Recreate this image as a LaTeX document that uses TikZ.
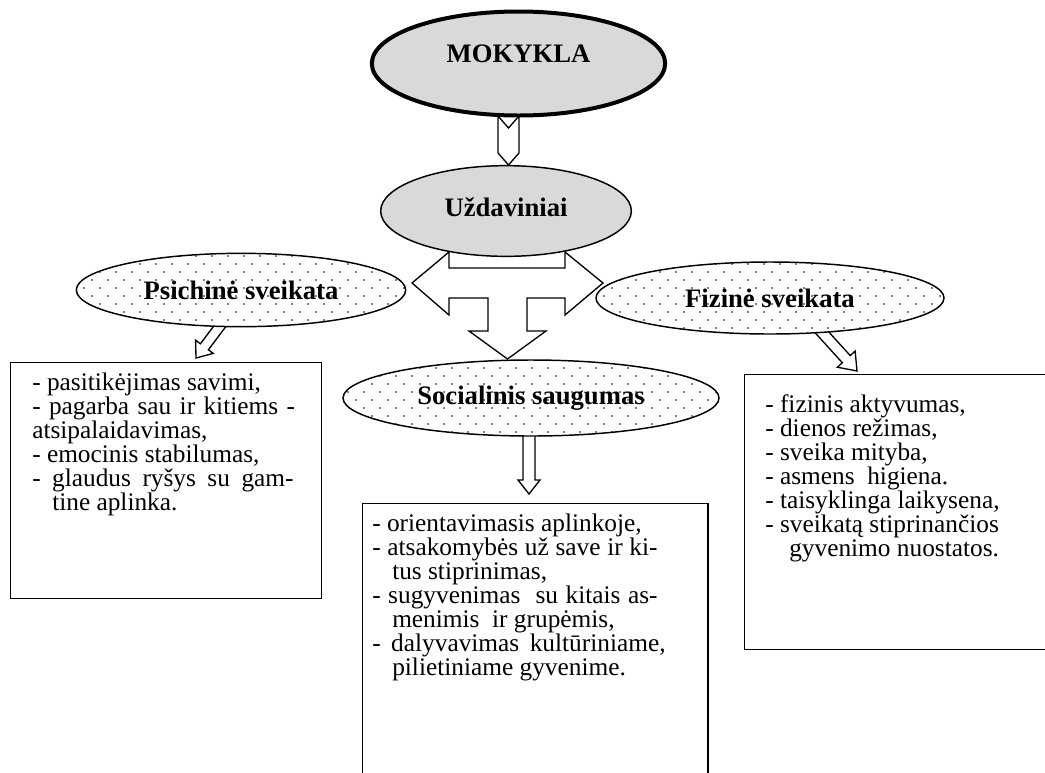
\documentclass[tikz,border=0pt]{standalone}
\usepackage{fontspec}
\setmainfont{Liberation Serif}
\usetikzlibrary{shapes.geometric, calc, patterns, positioning}

\pgfdeclarepatternformonly{sparsedots}{\pgfqpoint{-1pt}{-1pt}}{\pgfqpoint{13pt}{13pt}}{\pgfqpoint{12pt}{12pt}}{%
	\pgfpathcircle{\pgfqpoint{3pt}{3pt}}{0.7pt}%
	\pgfpathcircle{\pgfqpoint{9pt}{9pt}}{0.7pt}%
	\pgfusepath{fill}}

\pgfdeclarelayer{bg}
\pgfsetlayers{bg,main}

\tikzset{
	school/.style={ellipse, draw, line width=3pt, fill=black!15, minimum width=220pt, minimum height=78pt, text depth=14pt, font=\fontsize{20pt}{22pt}\selectfont\bfseries},
	task/.style={ellipse, draw, line width=1.1pt, fill=black!15, minimum width=188pt, minimum height=68pt, text depth=6pt, font=\fontsize{20pt}{22pt}\selectfont\bfseries},
	topic/.style={ellipse, draw, line width=1.1pt, preaction={fill=white}, pattern=sparsedots, font=\fontsize{20pt}{22pt}\selectfont\bfseries},
	listbox/.style={draw, line width=1.1pt, anchor=north west, inner sep=0pt},
	listtext/.style={align=left, inner sep=0pt, anchor=north west, font=\fontsize{19pt}{18pt}\selectfont},
	blockarrow/.style={draw, line width=1pt, line join=miter}
}

% justified line of a list item
\newcommand{\jline}[2]{\makebox[#1][s]{#2}}

% hollow arrow: from, to, shaft half width, head half width, head length
\newcommand{\hollowarrow}[5]{%
	\coordinate (ha) at (#1);
	\coordinate (hb) at (#2);
	\coordinate (hh) at ($(hb)!#5!(ha)$);
	\draw[blockarrow] ($(ha)!#3!90:(hb)$) -- ($(hh)!#3!90:(hb)$) -- ($(hh)!#4!90:(hb)$) -- (hb)
		-- ($(hh)!#4!-90:(hb)$) -- ($(hh)!#3!-90:(hb)$) -- ($(ha)!#3!-90:(hb)$) -- cycle;
}

\begin{document}
\begin{tikzpicture}[x=0.75pt, y=-0.75pt]
	\useasboundingbox (0,0) rectangle (1045,772);

	% Nodes
	\node (school) [school] at (518.5,63.5) {MOKYKLA};
	\node (tasks) [task] at (506,211) {Uždaviniai};
	\node (psych) [topic, minimum width=247pt, minimum height=55pt] at (241,290) {Psichinė sveikata};
	\node (phys) [topic, minimum width=261pt, minimum height=54pt] at (770,298) {Fizinė sveikata};
	\node (soc) [topic, minimum width=282pt, minimum height=57pt] at (531,398) {Socialinis saugumas};

	% Boxes
	\node (psbox) [listbox, minimum width=233pt, minimum height=177pt] at (10,362) {};
	\node (socbox) [listbox, minimum width=259pt, minimum height=220pt] at (362,503) {};
	\node (physbox) [listbox, minimum width=230pt, minimum height=206pt] at (744,374) {};

	\node (pstext) [listtext] at ([xshift=16.5pt, yshift=-8pt]psbox.north west)
		{- pasitikėjimas savimi,\\
		 \jline{197pt}{- pagarba sau ir kitiems -}\\
		 atsipalaidavimas,\\
		 - emocinis stabilumas,\\
		 \jline{196pt}{- glaudus ryšys su gam-}\\
		 \hspace*{15pt}tine aplinka.};
	\node (soctext) [listtext] at ([xshift=7.5pt, yshift=-8pt]socbox.north west)
		{- orientavimasis aplinkoje,\\
		 \jline{214pt}{- atsakomybės už save ir ki-}\\
		 \hspace*{15pt}tus stiprinimas,\\
		 \jline{214pt}{- sugyvenimas\ \ su kitais as-}\\
		 \hspace*{15pt}menimis\ \ ir grupėmis,\\
		 \jline{220pt}{- dalyvavimas kultūriniame,}\\
		 \hspace*{15pt}pilietiniame gyvenime.};
	\node (phystext) [listtext] at ([xshift=15.75pt, yshift=-15pt]physbox.north west)
		{- fizinis aktyvumas,\\
		 - dienos režimas,\\
		 - sveika mityba,\\
		 - asmens\ \ higiena.\\
		 - taisyklinga laikysena,\\
		 - sveikatą stiprinančios\\
		 \hspace*{18pt}gyvenimo nuostatos.};

	% Arrows
	\begin{pgfonlayer}{bg}
		\draw [blockarrow] (498,116) -- (508.5,128) -- (519,116) -- (519,153) -- (508.5,165) -- (498,153) -- cycle;
		\draw [blockarrow] (449,252) -- (412,283) -- (449,315) -- (449,298) -- (488,298) -- (488,331)
			-- (469,331) -- (507.5,359) -- (546,331) -- (527,331) -- (527,298) -- (565,298) -- (565,315)
			-- (603,283) -- (565,252) -- (565,268) -- (449,268) -- cycle;
		\coordinate (psA) at (226,318);
		\coordinate (psB) at (196,358);
		\hollowarrow{psA}{psB}{3.75pt}{8.25pt}{10.5pt}
		\coordinate (phA) at (818,328);
		\coordinate (phB) at (857,371);
		\hollowarrow{phA}{phB}{4pt}{9pt}{12pt}
		\coordinate (soA) at (529,432);
		\coordinate (soB) at (529,494);
		\hollowarrow{soA}{soB}{4.5pt}{8.25pt}{10.5pt}
	\end{pgfonlayer}
\end{tikzpicture}
\end{document}
